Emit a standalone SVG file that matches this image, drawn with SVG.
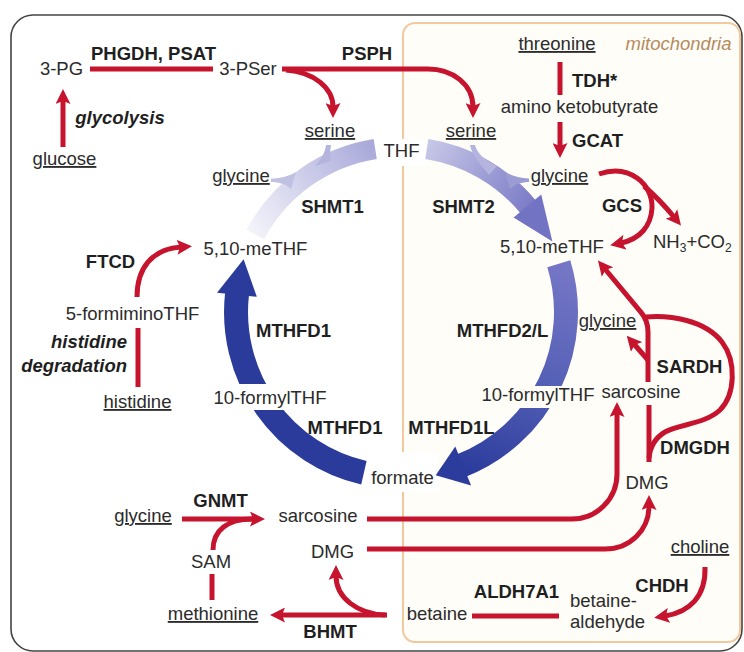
<svg xmlns="http://www.w3.org/2000/svg" width="744" height="652" viewBox="0 0 744 652">
<style>
.t{font-family:"Liberation Sans",Arial,sans-serif;font-size:18.5px;fill:#2b2b2b}
.b{font-weight:bold;fill:#1f1f1f}
.i{font-style:italic}
.u{text-decoration:underline}
.m{text-anchor:middle}
.e{text-anchor:end}
.r{fill:none;stroke:#c6142f;stroke-width:5}
.ra{marker-end:url(#ah)}
.band{fill:none;stroke-linecap:butt}
</style>
<defs>
<marker id="ah" viewBox="0 0 15 15" refX="4" refY="7.5" markerWidth="15" markerHeight="15" markerUnits="userSpaceOnUse" orient="auto"><path d="M0,0 L15,7.5 L0,15 L3,7.5 Z" fill="#c6142f"/></marker>
<linearGradient id="gS1" gradientUnits="userSpaceOnUse" x1="375" y1="149" x2="255" y2="235"><stop offset="0" stop-color="#a9a9da"/><stop offset="1" stop-color="#f3f3fa"/></linearGradient>
<linearGradient id="gS2" gradientUnits="userSpaceOnUse" x1="427" y1="149" x2="540" y2="215"><stop offset="0" stop-color="#c6c6e7"/><stop offset="1" stop-color="#7474c4"/></linearGradient>
<linearGradient id="gR" gradientUnits="userSpaceOnUse" x1="559" y1="264" x2="465" y2="470"><stop offset="0" stop-color="#7676c6"/><stop offset="0.5" stop-color="#5460b6"/><stop offset="1" stop-color="#2c3c9c"/></linearGradient>
</defs>
<rect x="11" y="15" width="731" height="636" rx="22" fill="#ffffff" stroke="#444" stroke-width="1.6"/>
<rect x="403" y="23" width="337" height="619" rx="12" fill="#fefdf8" stroke="#f2c89c" stroke-width="2"/>
<text class="t i" x="678.5" y="50" text-anchor="middle" style="fill:#b58b5e">mitochondria</text>
<rect x="377" y="139" width="48" height="27" fill="#ffffff"/>
<rect x="366" y="452" width="72" height="40" fill="#ffffff"/>
<g id="connectors">
<g id="cycle">
<path class="band" d="M375.2,149 A165,165 0 0 0 255.3,234.5" stroke="url(#gS1)" stroke-width="20"/>
<path d="M326,145 L331,145 C330,151 330,156 331,161 L315,166 C321,160 325,153 326,145 Z" fill="#b4b4dd"/>
<path d="M271,178.5 L271,182 C279,182 286,184 291,189 L296,172 C289,176 281,178.5 271,178.5 Z" fill="#c0c0e2"/>
<path class="band" d="M426.8,149 A165,165 0 0 1 528.3,207" stroke="url(#gS2)" stroke-width="20"/>
<polygon points="513.6,217.5 541.2,194.4 552.4,241.4" fill="#7373c3"/>
<path d="M470,145 L475,145 C477,153 484,160 497,166 L489,175 C481,165 472,156 470,145 Z" fill="#b4b4de"/>
<path d="M529,178.5 L529,182 C522,182 515,184 510,189 L505,172 C512,176 520,178.5 529,178.5 Z" fill="#9c9cd5"/>
<path class="band" d="M558.8,263.8 A165,165 0 0 1 461.5,465.5" stroke="url(#gR)" stroke-width="24"/>
<polygon points="455.3,446.4 471.1,485.4 435.7,475.3" fill="#2c3c9c"/>
<path class="band" d="M363.9,472.8 A165,165 0 0 1 237.1,293.3" stroke="#2a3b9b" stroke-width="24"/>
<polygon points="256.8,296.8 217,292.7 243.6,259.3" fill="#2a3b9b"/>
<rect x="210" y="384" width="120" height="26" fill="#ffffff"/>
<rect x="479" y="386" width="120" height="22" fill="#fefdf8"/>
</g>
<g id="red">
<path class="r ra" d="M63,147 V100"/>
<path class="r" d="M90,69 H213"/>
<path class="r ra" d="M282,69 H428 C452,69 473,84 473,107"/>
<path class="r ra" d="M286,70 C314,72 333,88 333,107"/>
<path class="r" d="M560,62 V95"/>
<path class="r ra" d="M560,122 V147"/>
<path class="r ra" d="M599,174 C630,163 653,185 652,208 C651,226 640,239 621,243"/>
<path class="r ra" d="M644,186 Q660,200 674,217"/>
<path class="r ra" d="M648,382 V332 Q648,320 640,311 L605,269"/>
<path class="r" d="M646,317 C670,315 705,320 722,342 C737,362 735,395 720,410 C705,424 680,424 665,432 C655,438 650,447 649,458"/>
<path class="r ra" d="M648,360 L634,344"/>
<path class="r" d="M649,405 V462"/>
<path class="r ra" d="M367,519 H572 A45,45 0 0 0 617,474 V413"/>
<path class="r ra" d="M367,549 H605 C630,549 649,530 649,506"/>
<path class="r ra" d="M705,567 C706,596 690,612 665,616"/>
<path class="r" d="M472,616 H559"/>
<path class="r ra" d="M387,615 H281"/>
<path class="r ra" d="M385,615 C358,614 336,598 336,576"/>
<path class="r ra" d="M182,519 H254"/>
<path class="r" d="M213,550 C213,530 228,519 252,519"/>
<path class="r" d="M212,574 V600"/>
<path class="r ra" d="M137,297 C137,268 152,249 181,247"/>
<path class="r" d="M138,328 V387"/>
</g>
<g id="enzymes">
<text class="t b m" x="153.5" y="60">PHGDH, PSAT</text>
<text class="t b m" x="367" y="60">PSPH</text>
<text class="t b i m" x="120" y="124">glycolysis</text>
<text class="t b" x="572" y="87">TDH*</text>
<text class="t b" x="572" y="147">GCAT</text>
<text class="t b m" x="332.5" y="213">SHMT1</text>
<text class="t b m" x="463.5" y="213">SHMT2</text>
<text class="t b m" x="622" y="212">GCS</text>
<text class="t b m" x="110.5" y="268">FTCD</text>
<text class="t b i e" x="127" y="348">histidine</text>
<text class="t b i e" x="127" y="372">degradation</text>
<text class="t b m" x="293.5" y="337">MTHFD1</text>
<text class="t b m" x="502.5" y="337">MTHFD2/L</text>
<text class="t b m" x="689.5" y="373">SARDH</text>
<text class="t b m" x="345" y="434">MTHFD1</text>
<text class="t b m" x="451.5" y="434">MTHFD1L</text>
<text class="t b m" x="695" y="454">DMGDH</text>
<text class="t b m" x="220.5" y="507">GNMT</text>
<text class="t b m" x="662" y="592">CHDH</text>
<text class="t b m" x="516.5" y="598">ALDH7A1</text>
<text class="t b m" x="330" y="638">BHMT</text>
</g>
</g>
<g id="n-3pg"><text class="t m" x="61.5" y="75">3-PG</text></g>
<g id="n-3pser"><text class="t m" x="248" y="75">3-PSer</text></g>
<g id="n-glucose"><text class="t m u" x="64.5" y="165">glucose</text></g>
<g id="n-serine-c"><text class="t m u" x="330" y="137">serine</text></g>
<g id="n-serine-m"><text class="t m u" x="471" y="137">serine</text></g>
<g id="n-thf"><text class="t m" x="401.5" y="157">THF</text></g>
<g id="n-glycine-c"><text class="t m u" x="241" y="182">glycine</text></g>
<g id="n-glycine-m"><text class="t m u" x="559.5" y="182">glycine</text></g>
<g id="n-threonine"><text class="t m u" x="557" y="50">threonine</text></g>
<g id="n-akb"><text class="t m" x="579.5" y="113">amino ketobutyrate</text></g>
<g id="n-methf-c"><text class="t m" x="255.5" y="255">5,10-meTHF</text></g>
<g id="n-methf-m"><text class="t m" x="552" y="253">5,10-meTHF</text></g>
<g id="n-nh3co2"><text class="t" x="653" y="248">NH<tspan font-size="12" dy="4">3</tspan><tspan dy="-4">+CO</tspan><tspan font-size="12" dy="4">2</tspan></text></g>
<g id="n-formimino"><text class="t m" x="132.5" y="320">5-formiminoTHF</text></g>
<g id="n-histidine"><text class="t m u" x="137.5" y="408">histidine</text></g>
<g id="n-glycine-m2"><text class="t m u" x="607.5" y="327">glycine</text></g>
<g id="n-sarcosine-m"><text class="t m" x="641" y="398">sarcosine</text></g>
<g id="n-formyl-c"><text class="t m" x="270" y="404">10-formylTHF</text></g>
<g id="n-formyl-m"><text class="t m" x="538" y="401">10-formylTHF</text></g>
<g id="n-formate"><text class="t m" x="402.5" y="484">formate</text></g>
<g id="n-dmg-m"><text class="t m" x="647" y="489">DMG</text></g>
<g id="n-glycine-c2"><text class="t m u" x="143" y="522">glycine</text></g>
<g id="n-sarcosine-c"><text class="t m" x="318" y="522">sarcosine</text></g>
<g id="n-dmg-c"><text class="t m" x="332.5" y="558">DMG</text></g>
<g id="n-choline"><text class="t m u" x="700" y="553">choline</text></g>
<g id="n-sam"><text class="t m" x="211" y="568">SAM</text></g>
<g id="n-betald"><text class="t" x="570" y="607">betaine-</text><text class="t" x="570" y="628">aldehyde</text></g>
<g id="n-methionine"><text class="t m u" x="213" y="620">methionine</text></g>
<g id="n-betaine"><text class="t m" x="437" y="620">betaine</text></g>
</svg>
